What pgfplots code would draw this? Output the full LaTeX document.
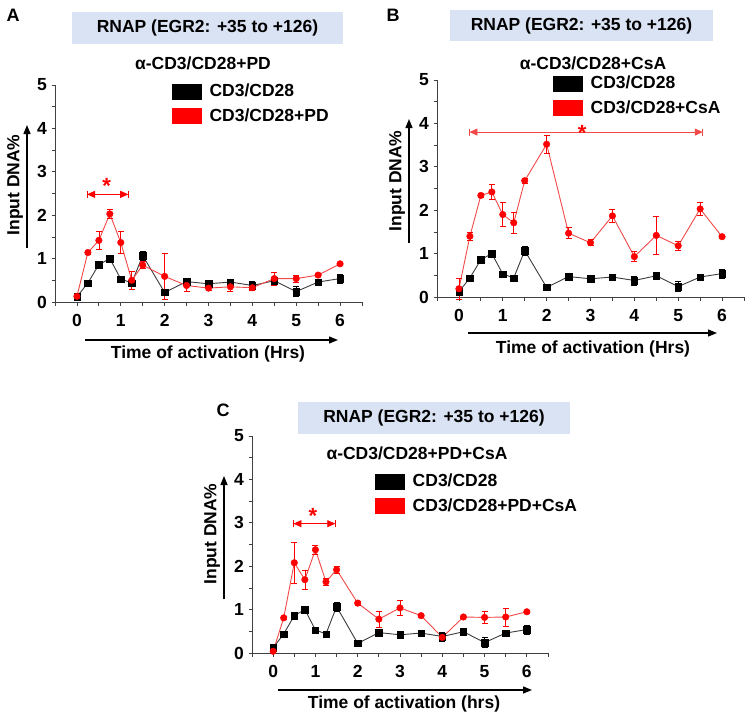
\documentclass[border=0pt]{standalone}
\usepackage{pgfplots}
\pgfplotsset{compat=1.18}
\usepackage{pgfplotstable}
\usepackage{fontspec}
\setmainfont{Liberation Sans}
\usetikzlibrary{arrows.meta}
\definecolor{boxblue}{RGB}{218,227,243}
\definecolor{dkline}{RGB}{60,60,60}
\definecolor{rline}{RGB}{242,72,72}

\pgfplotstableread{
t y e
0 0.12 0.03
0.25 0.44 0.03
0.5 0.86 0.03
0.75 1.00 0.08
1 0.53 0.03
1.25 0.44 0.05
1.5 1.07 0.10
2 0.22 0.04
2.5 0.47 0.07
3 0.42 0.03
3.5 0.46 0.06
4 0.38 0.10
4.5 0.49 0.04
5 0.24 0.12
5.5 0.46 0.05
6 0.54 0.10
}\blackdata

\pgfplotstableread{
t y e
0 0.13 0.03
0.25 1.14 0.04
0.5 1.42 0.20
0.75 2.03 0.10
1 1.37 0.25
1.25 0.50 0.20
1.5 0.85 0.08
2 0.59 0.52
2.5 0.38 0.13
3 0.32 0.05
3.5 0.35 0.10
4 0.33 0.06
4.5 0.54 0.15
5 0.54 0.08
5.5 0.62 0.04
6 0.88 0.04
}\redA

\pgfplotstableread{
t y e
0 0.19 0.25
0.25 1.40 0.10
0.5 2.34 0.05
0.75 2.42 0.17
1 1.90 0.28
1.25 1.71 0.24
1.5 2.68 0.05
2 3.52 0.20
2.5 1.47 0.13
3 1.25 0.07
3.5 1.87 0.16
4 0.93 0.12
4.5 1.42 0.44
5 1.18 0.10
5.5 2.03 0.15
6 1.39 0.03
}\redB

\pgfplotstableread{
t y e
0 0.04 0.02
0.25 0.81 0.03
0.5 2.08 0.48
0.75 1.69 0.22
1 2.38 0.10
1.25 1.64 0.07
1.5 1.92 0.08
2 1.15 0.05
2.5 0.78 0.19
3 1.04 0.17
3.5 0.86 0.03
4 0.36 0.07
4.5 0.83 0.02
5 0.82 0.13
5.5 0.83 0.21
6 0.95 0.03
}\redC

\newcommand{\txtfont}{\fontsize{17.5}{20}\selectfont\bfseries}

\pgfplotsset{
  panel/.style={
    scale only axis, width=307pt, height=217pt,
    xmin=-0.5, xmax=6.5, ymin=0, ymax=5,
    axis x line*=bottom, axis y line*=left,
    axis line style={line width=0.8pt, black!75},
    xtick={0,...,6}, minor xtick={-0.5,0.5,...,6.5},
    ytick={0,...,5}, minor ytick={0.5,1.5,...,4.5},
    tick align=outside, major tick length=3.5pt, minor tick length=3.5pt,
    every tick/.style={line width=0.8pt, black!75},
    ticklabel style={font=\fontsize{17.5}{19}\selectfont\bfseries},
    xticklabel style={yshift=-5pt},
    yticklabel style={xshift=-1pt},
    /pgf/number format/assume math mode=true,
    clip=false,
    legend cell align=left,
    legend style={draw=none, fill=none, anchor=north west, inner sep=0pt,
      font=\txtfont, row sep=8pt,
      nodes={inner sep=1pt},
      /tikz/every odd column/.append style={column sep=7pt}},
  },
  blk/.style={color=dkline, line width=0.9pt, mark=square*, mark size=3.2pt,
    mark options={fill=black, draw=black, line width=0.4pt},
    error bars/.cd, y dir=both, y explicit,
    error bar style={black, line width=0.7pt},
    error mark options={rotate=90, mark size=3pt, black, line width=0.7pt}},
  rd/.style={color=rline, line width=0.9pt, mark=*, mark size=3.3pt,
    mark options={fill=red, draw=red, line width=0.4pt},
    error bars/.cd, y dir=both, y explicit,
    error bar style={red, line width=0.7pt},
    error mark options={rotate=90, mark size=3pt, red, line width=0.7pt}},
}

\newcommand{\legblack}{\addlegendimage{legend image code/.code={\fill[black] (0pt,-7.5pt) rectangle (29pt,7.5pt);}}}
\newcommand{\legred}{\addlegendimage{legend image code/.code={\fill[red] (0pt,-7.5pt) rectangle (29pt,7.5pt);}}}

\begin{document}
\begin{tikzpicture}
\path[use as bounding box] (0pt,0pt) rectangle (750pt,-717pt);

% ---------------- Panel A
\begin{axis}[panel, at={(55pt,-302pt)}, anchor=south west,
  legend style={at={(rel axis cs:0.381,1.009)}}]
\legblack \addlegendentry{CD3/CD28}
\legred \addlegendentry{CD3/CD28+PD}
\addplot[forget plot, blk] table[x=t, y=y, y error=e] {\blackdata};
\addplot[forget plot, rd] table[x=t, y=y, y error=e] {\redA};
\draw[red, line width=0.8pt, {Triangle[length=8pt,width=7pt]}-{Triangle[length=8pt,width=7pt]}] (axis cs:0.23,2.48) -- (axis cs:1.17,2.48);
\draw[red, line width=0.8pt] (axis cs:0.23,2.40) -- (axis cs:0.23,2.56);
\draw[red, line width=0.8pt] (axis cs:1.17,2.40) -- (axis cs:1.17,2.56);
\node[red, font=\fontsize{22}{22}\selectfont\bfseries] at (axis cs:0.68,2.68) {*};
\end{axis}

% ---------------- Panel B
\begin{axis}[panel, at={(437pt,-297pt)}, anchor=south west,
  legend style={at={(rel axis cs:0.378,1.023)}}]
\legblack \addlegendentry{CD3/CD28}
\legred \addlegendentry{CD3/CD28+CsA}
\addplot[forget plot, blk] table[x=t, y=y, y error=e] {\blackdata};
\addplot[forget plot, rd] table[x=t, y=y, y error=e] {\redB};
\draw[rline, line width=0.8pt, {Triangle[length=8pt,width=7pt]}-{Triangle[length=8pt,width=7pt]}] (axis cs:0.24,3.8) -- (axis cs:5.56,3.8);
\draw[rline, line width=0.8pt] (axis cs:0.24,3.72) -- (axis cs:0.24,3.88);
\draw[rline, line width=0.8pt] (axis cs:5.56,3.72) -- (axis cs:5.56,3.88);
\node[red, font=\fontsize{22}{22}\selectfont\bfseries] at (axis cs:2.81,3.78) {*};
\end{axis}

% ---------------- Panel C
\begin{axis}[panel, width=296pt, at={(252pt,-653pt)}, anchor=south west,
  legend style={at={(rel axis cs:0.416,0.829)}}]
\legblack \addlegendentry{CD3/CD28}
\legred \addlegendentry{CD3/CD28+PD+CsA}
\addplot[forget plot, blk] table[x=t, y=y, y error=e] {\blackdata};
\addplot[forget plot, rd] table[x=t, y=y, y error=e] {\redC};
\draw[red, line width=0.8pt, {Triangle[length=8pt,width=7pt]}-{Triangle[length=8pt,width=7pt]}] (axis cs:0.48,2.98) -- (axis cs:1.47,2.98);
\draw[red, line width=0.8pt] (axis cs:0.48,2.90) -- (axis cs:0.48,3.06);
\draw[red, line width=0.8pt] (axis cs:1.47,2.90) -- (axis cs:1.47,3.06);
\node[red, font=\fontsize{22}{22}\selectfont\bfseries] at (axis cs:0.94,3.16) {*};
\end{axis}

% ---------------- annotations A
\node[font=\fontsize{18}{18}\selectfont\bfseries] at (13pt,-15pt) {A};
\node[fill=boxblue, minimum width=271pt, minimum height=32pt, inner sep=0pt, font=\txtfont] at (207.5pt,-28pt) {RNAP (EGR2: +35 to +126)};
\node[font=\txtfont] at (203pt,-63pt) {α-CD3/CD28+PD};
\node[rotate=90, font=\txtfont] at (15pt,-185pt) {Input DNA\%};
\draw[line width=1.3pt, -{Triangle[length=9pt,width=7pt]}] (27pt,-248pt) -- (27pt,-125pt);
\draw[line width=1.3pt, -{Triangle[length=9pt,width=7pt]}] (85pt,-340pt) -- (338pt,-340pt);
\node[font=\txtfont] at (208pt,-354pt) {Time of activation (Hrs)};

% ---------------- annotations B
\node[font=\fontsize{18}{18}\selectfont\bfseries] at (393pt,-15pt) {B};
\node[fill=boxblue, minimum width=263pt, minimum height=31pt, inner sep=0pt, font=\txtfont] at (581.5pt,-25.5pt) {RNAP (EGR2: +35 to +126)};
\node[font=\txtfont] at (593pt,-63pt) {α-CD3/CD28+CsA};
\node[rotate=90, font=\txtfont] at (397pt,-181pt) {Input DNA\%};
\draw[line width=1.3pt, -{Triangle[length=9pt,width=7pt]}] (409pt,-243pt) -- (409pt,-119pt);
\draw[line width=1.3pt, -{Triangle[length=9pt,width=7pt]}] (468pt,-333pt) -- (717pt,-333pt);
\node[font=\txtfont] at (593pt,-349pt) {Time of activation (Hrs)};

% ---------------- annotations C
\node[font=\fontsize{18}{18}\selectfont\bfseries] at (223pt,-410pt) {C};
\node[fill=boxblue, minimum width=272pt, minimum height=32pt, inner sep=0pt, font=\txtfont] at (434pt,-418pt) {RNAP (EGR2: +35 to +126)};
\node[font=\txtfont] at (417pt,-453pt) {α-CD3/CD28+PD+CsA};
\node[rotate=90, font=\txtfont] at (212pt,-534pt) {Input DNA\%};
\draw[line width=1.3pt, -{Triangle[length=9pt,width=7pt]}] (224pt,-599pt) -- (224pt,-476pt);
\draw[line width=1.3pt, -{Triangle[length=9pt,width=7pt]}] (278pt,-690pt) -- (532pt,-690pt);
\node[font=\txtfont] at (404pt,-704pt) {Time of activation (hrs)};
\end{tikzpicture}
\end{document}
